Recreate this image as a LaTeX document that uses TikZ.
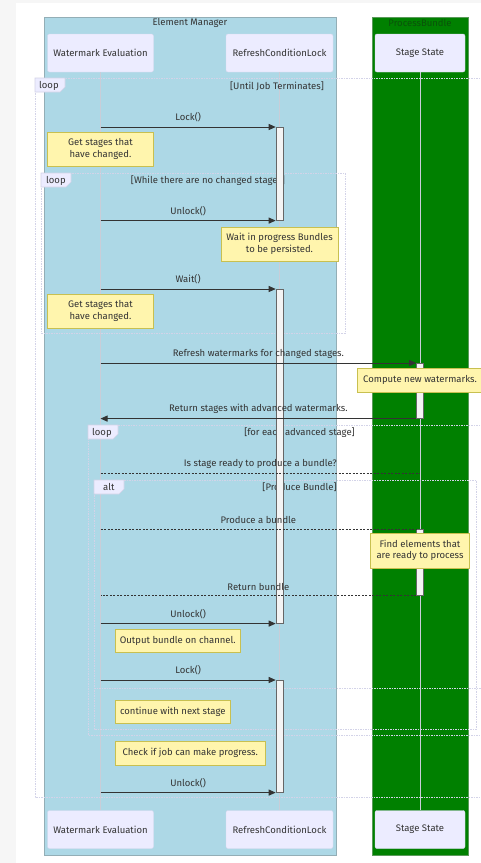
\documentclass[tikz,border=0pt]{standalone}
\usepackage{fontspec}
\setmainfont{Fira Sans}
\usetikzlibrary{arrows.meta}

\definecolor{pagebg}{HTML}{F6F6F6}
\definecolor{lanefill}{HTML}{ADD8E6}
\definecolor{laneedge}{HTML}{93AEB6}
\definecolor{pbfill}{HTML}{008000}
\definecolor{pbedge}{HTML}{5A9A5A}
\definecolor{pbtitle}{HTML}{0A520A}
\definecolor{actorfill}{HTML}{ECECFF}
\definecolor{actoredge}{HTML}{D8D8EE}
\definecolor{ink}{HTML}{333333}
\definecolor{lifeline}{HTML}{C9CDD8}
\definecolor{notefill}{HTML}{FFF5AD}
\definecolor{noteedge}{HTML}{C8C050}
\definecolor{framecol}{HTML}{D3D3E8}
\definecolor{actfill}{HTML}{F4F4F4}
\definecolor{actedge}{HTML}{666666}

\newcommand\txtsize{\fontsize{9.5}{11.5}\selectfont}

\tikzset{
  actorbox/.style={draw=actoredge, fill=actorfill, rounded corners=2pt,
    minimum height=38pt, inner sep=0pt, text=ink, font=\txtsize},
  lifelinestyle/.style={draw=lifeline, line width=1pt},
  lanebox/.style={line width=0.8pt},
  notebox/.style={draw=noteedge, fill=notefill, text=ink, font=\txtsize,
    align=center, inner sep=0pt, line width=0.6pt},
  actbar/.style={draw=actedge, fill=actfill, minimum width=7pt, inner sep=0pt,
    line width=0.6pt, anchor=north},
  msg/.style={draw=ink, line width=0.9pt, -{Triangle[length=7pt,width=6pt]}},
  reply/.style={draw=ink, line width=0.8pt, dash pattern=on 2pt off 1.5pt},
  msglabel/.style={text=ink, font=\txtsize, inner sep=0pt},
  framebox/.style={draw=framecol, line width=0.8pt, dash pattern=on 1.5pt off 1pt},
  tabshape/.style={draw=framecol, fill=actorfill, line width=0.6pt},
  tabtext/.style={text=ink, font=\txtsize, inner sep=0pt, anchor=west},
  condtext/.style={text=ink, font=\txtsize, inner sep=0pt},
}

\begin{document}
\begin{tikzpicture}[x=1pt, y=-1pt]
  \useasboundingbox (0,0) rectangle (481,863);
  % page and canvas
  \fill[pagebg] (0,0) rectangle (481,863);
  \fill[white] (16,3) rectangle (481,863);

  % swimlanes
  \filldraw[lanebox, fill=lanefill, draw=laneedge] (44,17) rectangle (336,855);
  \filldraw[lanebox, fill=pbfill, draw=pbedge] (372,17) rectangle (468,855);
  \node[text=ink, font=\txtsize, inner sep=0pt] (emtitle) at (190,22.5) {Element Manager};
  \node[text=pbtitle, font=\txtsize, inner sep=0pt] (pbtitlenode) at (420,22.5) {ProcessBundle};

  % participants
  \node[actorbox, minimum width=106pt] (pWE) at (100.5,53) {Watermark Evaluation};
  \node[actorbox, minimum width=107pt] (pRCL) at (279.5,53) {RefreshConditionLock};
  \node[actorbox, minimum width=90pt] (pSS) at (420,53) {Stage State};
  \node[actorbox, minimum width=106pt] (bWE) at (100.5,829.5) {Watermark Evaluation};
  \node[actorbox, minimum width=107pt] (bRCL) at (279.5,829.5) {RefreshConditionLock};
  \node[actorbox, minimum width=90pt] (bSS) at (420,829.5) {Stage State};

  % lifelines
  \draw[lifelinestyle] (pWE.south) -- (bWE.north);
  \draw[lifelinestyle] (pRCL.south) -- (bRCL.north);
  \draw[lifelinestyle] (pSS.south) -- (bSS.north);

  % outer loop frame
  \draw[framebox] (490,78) -- (35,78) -- (35,797) -- (490,797);
  \filldraw[tabshape] (35,78) -- (65,78) -- (65,87) -- (60,92) -- (35,92) -- cycle;
  \node[tabtext] (loopA) at (39,85.5) {loop};
  \node[condtext] (condA) at (277,86) {[Until Job Terminates]};

  % inner waiting loop frame
  \draw[framebox] (41,173) rectangle (345,333);
  \filldraw[tabshape] (41,173) -- (71,173) -- (71,182) -- (66,187) -- (41,187) -- cycle;
  \node[tabtext] (loopB) at (46,180.5) {loop};
  \node[condtext] (condB) at (208,180.5) {[While there are no changed stages]};

  % per-stage loop frame
  \draw[framebox] (490,425) -- (88,425) -- (88,735) -- (490,735);
  \filldraw[tabshape] (88,425) -- (118,425) -- (118,434) -- (113,439) -- (88,439) -- cycle;
  \node[tabtext] (loopC) at (92,432.5) {loop};
  \node[condtext] (condC) at (299.5,433) {[for each advanced stage]};

  % alternative frame
  \draw[framebox] (94,480) rectangle (476,729);
  \draw[framebox] (94,688) -- (481,688);
  \filldraw[tabshape] (94,480) -- (124,480) -- (124,489) -- (119,494) -- (94,494) -- cycle;
  \node[tabtext] (altD) at (103,487) {alt};
  \node[condtext] (condD) at (299.5,487) {[Produce Bundle]};

  % activations
  \node[actbar, minimum height=93pt] (a1) at (279.5,127) {};
  \node[actbar, minimum height=334pt] (a2) at (279.5,289) {};
  \node[actbar, minimum height=112pt] (a3) at (279.5,680) {};
  \node[actbar, minimum height=55pt] (s1) at (420,363) {};
  \node[actbar, minimum height=66pt] (s2) at (420,529) {};

  % messages
  \draw[msg] (pWE.south |- a1.north west) -- (a1.north west)
    node[msglabel, midway, above=4.5pt] (l1) {Lock()};
  \draw[msg] (pWE.south |- a1.south west) -- (a1.south west)
    node[msglabel, midway, above=4.5pt] (l2) {Unlock()};
  \draw[msg] (pWE.south |- a2.north west) -- (a2.north west)
    node[msglabel, midway, above=4.5pt] (l3) {Wait()};
  \draw[msg] (pWE.south |- s1.north west) -- (s1.north west)
    node[msglabel, midway, above=4.5pt] (l4) {Refresh watermarks for changed stages.};
  \draw[msg] (s1.south west) -- (pWE.south |- s1.south west)
    node[msglabel, midway, above=4.5pt] (l5) {Return stages with advanced watermarks.};
  \coordinate (q1) at (pWE.south |- 0,473);
  \coordinate (q2) at (pSS.south |- 0,473);
  \draw[reply] (q1) -- (q2)
    node[msglabel, midway, above=4.5pt] (l6) {Is stage ready to produce a bundle?};
  \draw[reply] (pWE.south |- s2.north west) -- (s2.north west)
    node[msglabel, midway, above=4.5pt] (l7) {Produce a bundle};
  \draw[reply] (s2.south west) -- (pWE.south |- s2.south west)
    node[msglabel, midway, above=4.5pt] (l8) {Return bundle};
  \draw[msg] (pWE.south |- a2.south west) -- (a2.south west)
    node[msglabel, midway, above=4.5pt] (l9) {Unlock()};
  \draw[msg] (pWE.south |- a3.north west) -- (a3.north west)
    node[msglabel, midway, above=4.5pt] (l10) {Lock()};
  \draw[msg] (pWE.south |- a3.south west) -- (a3.south west)
    node[msglabel, midway, above=4.5pt] (l11) {Unlock()};

  % notes
  \node[notebox, minimum width=106pt, minimum height=34pt] (n1) at (100.5,149)
    {Get stages that\\have changed.};
  \node[notebox, minimum width=117pt, minimum height=34pt] (n2) at (279.5,244)
    {Wait in progress Bundles\\to be persisted.};
  \node[notebox, minimum width=106pt, minimum height=34pt] (n3) at (100.5,311)
    {Get stages that\\have changed.};
  \node[notebox, minimum width=125pt, minimum height=24pt] (n4) at (420,380)
    {Compute new watermarks.};
  \node[notebox, minimum width=99pt, minimum height=35pt] (n5) at (420,550.5)
    {Find elements that\\are ready to process};
  \node[notebox, minimum width=125pt, minimum height=23pt, anchor=west] (n6) at (115,640.5)
    {Output bundle on channel.};
  \node[notebox, minimum width=115pt, minimum height=23pt, anchor=west] (n7) at (115,711.5)
    {continue with next stage};
  \node[notebox, minimum width=150pt, minimum height=24pt, anchor=west] (n8) at (115,753)
    {Check if job can make progress.};
\end{tikzpicture}
\end{document}
